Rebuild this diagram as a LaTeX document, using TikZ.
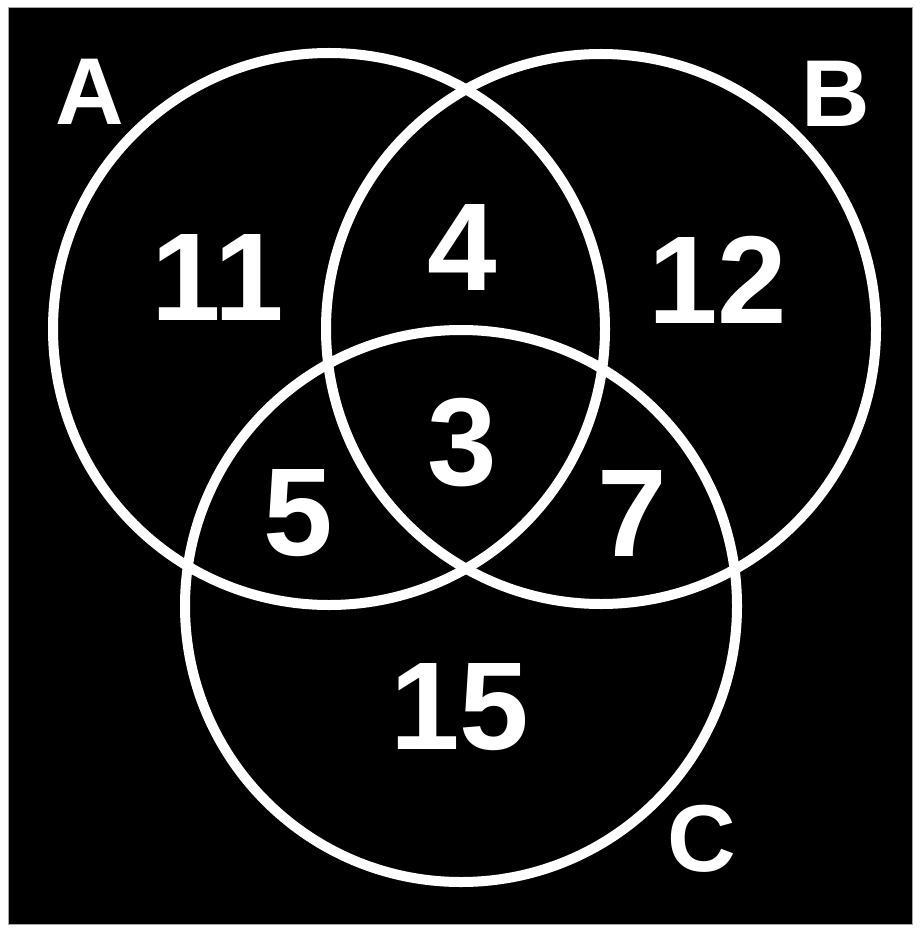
\documentclass[tikz,border=0pt]{standalone}
\usepackage{fontspec}
\setmainfont{Liberation Sans}
\begin{document}
\begin{tikzpicture}[x=1pt,y=-1pt,
  ring/.style={draw=white,line width=10pt},
  big/.style={text=white,font=\fontsize{125}{125}\selectfont\bfseries,inner sep=0pt},
  lab/.style={text=white,font=\fontsize{95}{95}\selectfont\bfseries,inner sep=0pt}]
\useasboundingbox (0,0) rectangle (921,933);
\fill[white] (0,0) rectangle (921,933);
\draw[fill=black,draw=gray!70,line width=1pt] (8,8) rectangle (912,924);
\draw[ring] (329,329) circle (276);
\draw[ring] (601,329) circle (275);
\draw[ring] (461,606) circle (276);
\node[lab] (A) at (90,92) {A};
\node[lab] (B) at (836,94) {B};
\node[lab] (C) at (702,839) {C};
\node[big] (n11) at (218,277) {11};
\node[big] (n4) at (462,247) {4};
\node[big] (n12) at (718,280) {12};
\node[big] (n3) at (462,443) {3};
\node[big] (n5) at (298,513) {5};
\node[big] (n7) at (632,513) {7};
\node[big] (n15) at (460,707) {15};
\end{tikzpicture}
\end{document}
